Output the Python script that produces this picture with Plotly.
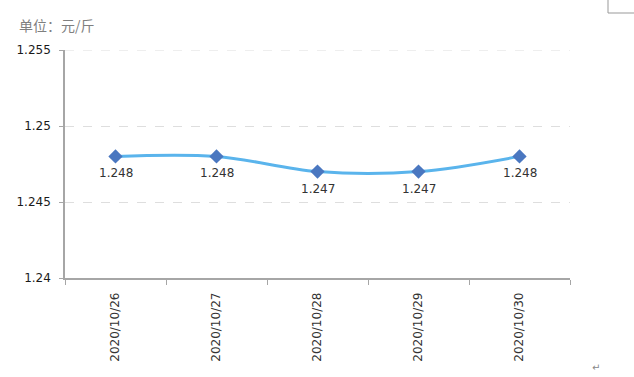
import plotly.graph_objects as go

dates = ["2020/10/26", "2020/10/27", "2020/10/28", "2020/10/29", "2020/10/30"]
prices = [1.248, 1.248, 1.247, 1.247, 1.248]
y_ticks = [1.24, 1.245, 1.25, 1.255]
y_tick_labels = ["1.24", "1.245", "1.25", "1.255"]

num_font = "DejaVu Sans"

fig = go.Figure()
fig.add_trace(go.Scatter(
    x=dates, y=prices,
    mode="lines+markers",
    line=dict(color="#5ab4ec", width=3, shape="spline", smoothing=1),
    marker=dict(symbol="diamond", size=11, color="#4a77c0"),
    cliponaxis=False,
    hoverinfo="skip",
))

annotations = [
    dict(x=d, y=v, xref="x", yref="y", text=f"{v:.3f}", showarrow=False,
         yshift=-17, xanchor="center", yanchor="middle",
         font=dict(family=num_font, size=12, color="#333333"))
    for d, v in zip(dates, prices)
]
annotations += [
    dict(text="单位：元/斤", xref="paper", yref="paper",
         x=-48/505, y=1 + 25/228,
         xanchor="left", yanchor="middle", showarrow=False,
         font=dict(family="Noto Sans CJK SC", size=14, color="#7f7f7f")),
    dict(text="↵", xref="paper", yref="paper",
         x=(596-65)/505, y=-(367-278)/228, xanchor="center", yanchor="middle",
         showarrow=False, font=dict(family="DejaVu Sans", size=10, color="#888888")),
]

fig.update_layout(
    width=634, height=377,
    margin=dict(l=65, r=64, t=50, b=99),
    paper_bgcolor="white", plot_bgcolor="white",
    showlegend=False,
    xaxis=dict(
        type="category", range=[-0.5, 4.5],
        showline=True, linecolor="#a6a6a6", linewidth=1.5,
        ticks="outside", tickson="boundaries", ticklen=5, tickcolor="#a6a6a6",
        tickangle=-90, tickfont=dict(family=num_font, size=12, color="#333333"),
        ticklabelstandoff=8,
        showgrid=False, zeroline=False,
    ),
    yaxis=dict(
        range=[1.24, 1.255], tickvals=y_ticks, ticktext=y_tick_labels,
        showline=True, linecolor="#a6a6a6", linewidth=1.5,
        ticks="outside", ticklen=4, tickcolor="#a6a6a6",
        tickfont=dict(family=num_font, size=12, color="#1a1a1a"),
        ticklabelstandoff=6,
        showgrid=True, gridcolor="#dedede", griddash="dash", gridwidth=1,
        zeroline=False,
    ),
    annotations=annotations,
    shapes=[
        dict(type="line", xref="paper", yref="y", x0=0, x1=1,
             y0=y_ticks[-1], y1=y_ticks[-1],
             line=dict(color="#dedede", width=1, dash="dash")),
        dict(type="line", xref="paper", yref="paper",
             x0=(608-65)/505, x1=(608-65)/505, y0=(278)/228, y1=(278-13)/228,
             line=dict(color="#999999", width=1)),
        dict(type="line", xref="paper", yref="paper",
             x0=(608-65)/505, x1=(634-65)/505, y0=(278-13)/228, y1=(278-13)/228,
             line=dict(color="#999999", width=1)),
    ],
)

fig.write_html("out.html")
